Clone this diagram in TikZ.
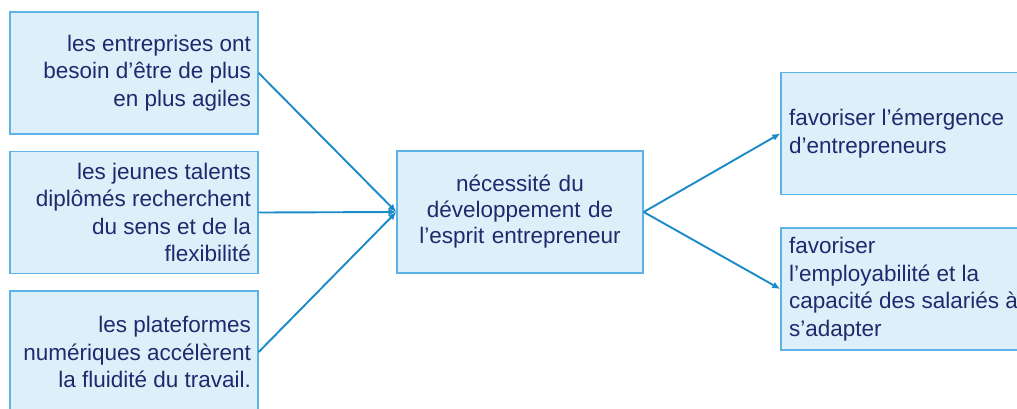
\documentclass[tikz,border=0pt]{standalone}
\usepackage{fontspec}
\setmainfont{Liberation Sans}
\usetikzlibrary{arrows.meta}
\definecolor{boxfill}{HTML}{DDEFF9}
\definecolor{boxline}{HTML}{5BB4E5}
\definecolor{arrowcol}{HTML}{1A8AC8}
\definecolor{txtcol}{HTML}{1F2A6E}
\tikzset{
  box/.style={draw=boxline, fill=boxfill, line width=1.4pt, minimum height=122pt,
    inner ysep=0pt, text=txtcol, font=\fontsize{22.5}{27.5}\selectfont},
  leftbox/.style={box, text width=234pt, inner xsep=7pt, align=flush right},
  midbox/.style={box, text width=230pt, inner xsep=8pt, align=center, font=\fontsize{22.5}{26}\selectfont},
  rightbox/.style={box, text width=240pt, inner xsep=8pt, align=flush left},
  conn/.style={draw=arrowcol, line width=1.9pt, -{Latex[length=8pt,width=7pt]}}
}
\begin{document}
\begin{tikzpicture}[x=1pt,y=-1pt]
\useasboundingbox (0,0) rectangle (1017,408);
\clip (0,0) rectangle (1017,408);
\node[leftbox] (b1) at (134,73) {les entreprises ont\\besoin d’être de plus\\en plus agiles};
\node[leftbox] (b2) at (134,212.5) {les jeunes talents\\diplômés recherchent\\du sens et de la\\flexibilité};
\node[leftbox] (b3) at (134,352) {les plateformes\\numériques accélèrent\\la fluidité du travail.};
\node[midbox] (c) at (520,212) {nécessité du\\développement de\\l’esprit entrepreneur};
\node[rightbox] (r1) at (909,133.5) {favoriser l’émergence\\d’entrepreneurs};
\node[rightbox] (r2) at (909,289) {favoriser\\l’employabilité et la\\capacité des salariés à\\s’adapter};
\draw[conn] (b1.east) -- (c.west);
\draw[conn] (b2.east) -- (c.west);
\draw[conn] (b3.east) -- (c.west);
\draw[conn] (c.east) -- (r1.west);
\draw[conn] (c.east) -- (r2.west);
\end{tikzpicture}
\end{document}
